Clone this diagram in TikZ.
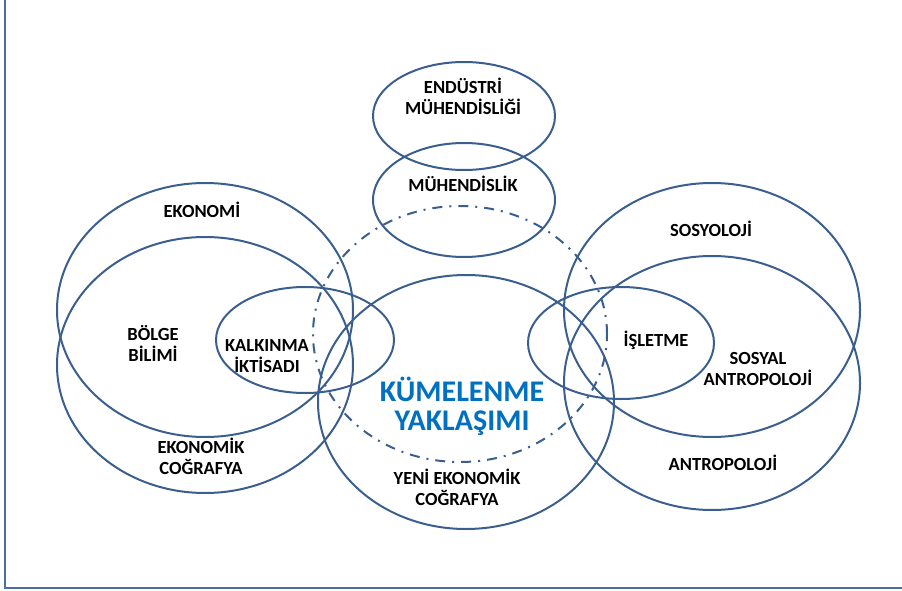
\documentclass[tikz,border=0pt]{standalone}
\usepackage{fontspec}
\setmainfont{Carlito}
\usetikzlibrary{shapes.geometric}
\definecolor{edge}{HTML}{3A5F8F}
\definecolor{framec}{HTML}{4A6E9E}
\definecolor{kblue}{HTML}{0070C0}
\begin{document}
\begin{tikzpicture}[x=1pt,y=-1pt,
  ring/.style={ellipse, draw=edge, line width=2pt, inner sep=0pt, outer sep=0pt},
  dashring/.style={ring, dash pattern=on 10pt off 7pt on 2pt off 7pt},
  lab/.style={font=\bfseries\fontsize{18.5}{21}\selectfont, align=center, inner sep=0pt, text=black},
  biglab/.style={font=\bfseries\fontsize{30}{29}\selectfont, align=center, inner sep=0pt, text=kblue},
  framestyle/.style={draw=framec, line width=1.5pt}]
\useasboundingbox (0,0) rectangle (902,591);
% frame
\coordinate (ftop) at (5,0);
\coordinate (fcorner) at (5,588);
\coordinate (fright) at (902,588);
\draw[framestyle] (ftop) -- (fcorner) -- (fright);

% ellipses
\node[ring, minimum width=182pt, minimum height=108pt] (endm) at (464,116) {};
\node[ring, minimum width=182pt, minimum height=114pt] (muh) at (464,200) {};
\node[dashring, minimum width=294pt, minimum height=256pt] (kum) at (460,334) {};
\node[ring, minimum width=296pt, minimum height=254pt] (yeni) at (466,402) {};
\node[ring, minimum width=296pt, minimum height=254pt] (eko) at (205,310) {};
\node[ring, minimum width=296pt, minimum height=256pt] (ekoc) at (205,365) {};
\node[ring, minimum width=178pt, minimum height=106pt] (kalk) at (305,340) {};
\node[ring, minimum width=296pt, minimum height=254pt] (sos) at (712,310) {};
\node[ring, minimum width=296pt, minimum height=254pt] (ant) at (712,383) {};
\node[ring, minimum width=186pt, minimum height=112pt] (isl) at (621,343) {};

% labels
\node[lab] (tendm) at (463,96) {ENDÜSTRİ\\MÜHENDİSLİĞİ};
\node[lab] (tmuh) at (463,184) {MÜHENDİSLİK};
\node[lab] (teko) at (202,210) {EKONOMİ};
\node[lab] (tbolge) at (153,343) {BÖLGE\\BİLİMİ};
\node[lab] (tkalk) at (267,356) {KALKINMA\\İKTİSADI};
\node[lab] (tekoc) at (201,456) {EKONOMİK\\COĞRAFYA};
\node[biglab] (tkum) at (462,406) {KÜMELENME\\YAKLAŞIMI};
\node[lab] (tyeni) at (457,487) {YENİ EKONOMİK\\COĞRAFYA};
\node[lab] (tsos) at (711,229) {SOSYOLOJİ};
\node[lab] (tisl) at (656,340) {İŞLETME};
\node[lab] (tsant) at (758,369) {SOSYAL\\ANTROPOLOJİ};
\node[lab] (tant) at (723,463) {ANTROPOLOJİ};
\end{tikzpicture}
\end{document}
